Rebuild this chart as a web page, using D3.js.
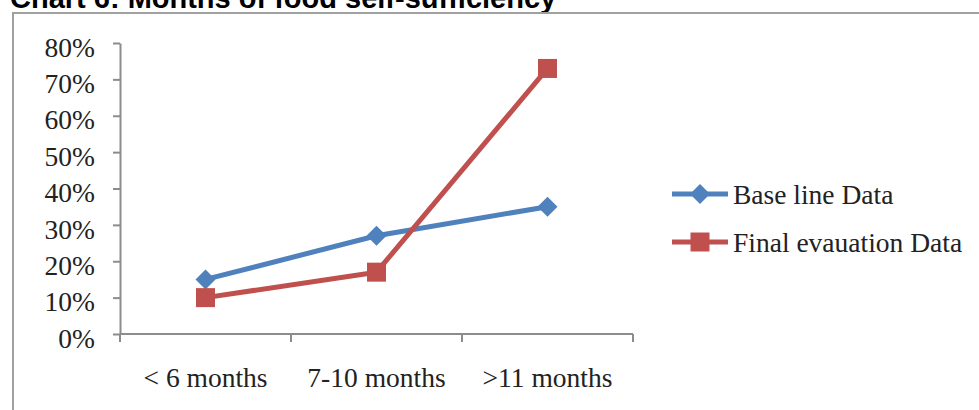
<!DOCTYPE html>
<html>
<head>
<meta charset="utf-8">
<script src="https://cdn.jsdelivr.net/npm/d3@7"></script>
<style>
  html, body { margin: 0; padding: 0; background: #fff; }
  svg { display: block; }
</style>
</head>
<body>
<svg id="chart" width="979" height="410"></svg>
<script>
const categories = ["< 6 months", "7-10 months", ">11 months"];
const baselineValues = [0.15, 0.27, 0.35];
const finalValues = [0.10, 0.17, 0.73];
const yTicks = [0, 0.1, 0.2, 0.3, 0.4, 0.5, 0.6, 0.7, 0.8];
const seriesNames = ["Base line Data", "Final evauation Data"];
const titleText = "Chart 6: Months of food self-sufficiency";

const svg = d3.select("#chart");
const serif = "'Liberation Serif', 'Times New Roman', serif";
const blue = "#4F81BD", red = "#C0504D", axisColor = "#8c8c8c";

// Title (cut off at top)
svg.append("text").attr("x", 10).attr("y", 8)
  .attr("font-family", "'Liberation Sans', Arial, sans-serif")
  .attr("font-weight", "bold").attr("font-size", 29)
  .attr("fill", "#000").text(titleText);

// Outer chart border
svg.append("rect").attr("x", 13).attr("y", 13).attr("width", 1000).attr("height", 500)
  .attr("fill", "none").attr("stroke", "#a0a0a0").attr("stroke-width", 2);

const x = d3.scaleBand().domain(categories).range([120, 633]).padding(0);
const y = d3.scaleLinear().domain([0, 0.8]).range([334, 43]);

// Y axis
const yAxis = svg.append("g").attr("transform", "translate(120,0)")
  .call(d3.axisLeft(y).tickValues(yTicks).tickFormat(d3.format(".0%")).tickSize(7).tickPadding(18).tickSizeOuter(0));
yAxis.select(".domain").attr("stroke", axisColor).attr("stroke-width", 2);
yAxis.selectAll(".tick line").attr("stroke", axisColor).attr("stroke-width", 2);
yAxis.selectAll(".tick text").attr("font-family", serif).attr("font-size", 27.5)
  .attr("fill", "#222").attr("dy", "0.48em");

// X axis
const xAxis = svg.append("g").attr("transform", "translate(0,334)");
xAxis.append("line").attr("x1", x.range()[0]).attr("x2", x.range()[1])
  .attr("stroke", axisColor).attr("stroke-width", 2);
const edges = categories.map(c => x(c)).concat([x(categories[categories.length - 1]) + x.bandwidth()]);
xAxis.selectAll("line.tick").data(edges).enter().append("line")
  .attr("class", "tick").attr("x1", d => d).attr("x2", d => d).attr("y1", 0).attr("y2", 8)
  .attr("stroke", axisColor).attr("stroke-width", 2);
xAxis.selectAll("text").data(categories).enter().append("text")
  .attr("x", d => x(d) + x.bandwidth() / 2).attr("y", 53)
  .attr("text-anchor", "middle").attr("font-family", serif).attr("font-size", 27.5)
  .attr("fill", "#222").text(d => d);

const cx = c => x(c) + x.bandwidth() / 2;
const line = d3.line().x(d => cx(d.c)).y(d => y(d.v));

function drawSeries(values, color, marker) {
  const data = categories.map((c, i) => ({ c, v: values[i] }));
  svg.append("path").datum(data).attr("d", line).attr("fill", "none")
    .attr("stroke", color).attr("stroke-width", 5).attr("stroke-linejoin", "round");
  const sym = marker === "diamond"
    ? d3.symbol().type(d3.symbolSquare).size(200)
    : d3.symbol().type(d3.symbolSquare).size(361);
  svg.selectAll(null).data(data).enter().append("path")
    .attr("d", sym)
    .attr("transform", d => `translate(${cx(d.c)},${y(d.v)})` + (marker === "diamond" ? " rotate(45)" : ""))
    .attr("fill", color);
}
drawSeries(baselineValues, blue, "diamond");
drawSeries(finalValues, red, "square");

// Legend
const legend = [
  { name: seriesNames[0], color: blue, marker: "diamond", y: 194 },
  { name: seriesNames[1], color: red, marker: "square", y: 242 }
];
legend.forEach(l => {
  svg.append("line").attr("x1", 672).attr("x2", 728).attr("y1", l.y).attr("y2", l.y)
    .attr("stroke", l.color).attr("stroke-width", 5);
  const sym = l.marker === "diamond"
    ? d3.symbol().type(d3.symbolSquare).size(200)
    : d3.symbol().type(d3.symbolSquare).size(361);
  svg.append("path").attr("d", sym)
    .attr("transform", `translate(700,${l.y})` + (l.marker === "diamond" ? " rotate(45)" : ""))
    .attr("fill", l.color);
  svg.append("text").attr("x", 733).attr("y", l.y + 10)
    .attr("font-family", serif).attr("font-size", 27.5).attr("fill", "#222").text(l.name);
});
</script>
</body>
</html>
